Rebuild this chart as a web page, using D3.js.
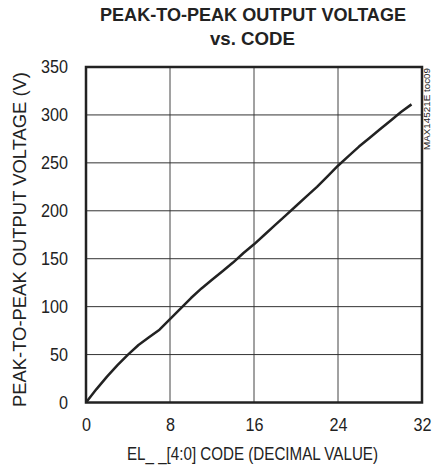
<!DOCTYPE html>
<html>
<head>
<meta charset="utf-8">
<script src="https://cdn.jsdelivr.net/npm/d3@7"></script>
<style>
  body { margin: 0; background: #fff; }
  text { font-family: "Liberation Sans", Arial, sans-serif; fill: #222; }
</style>
</head>
<body>
<svg id="chart" width="444" height="466"></svg>
<script>
// EL[4:0] code vs peak-to-peak output voltage
const codes = [0, 1, 2, 3, 4, 5, 6, 7, 8, 9, 10, 11, 12, 13, 14, 15,
               16, 17, 18, 19, 20, 21, 22, 23, 24, 25, 26, 27, 28, 29, 30, 31];
const vpp = [0, 14, 27, 39, 50, 60, 68, 76, 87, 98, 109, 119, 128, 137, 146, 156,
             165, 175, 185, 195, 205, 215, 225, 236, 247, 257, 267, 276, 285, 294, 303, 311];
const xTicks = [0, 8, 16, 24, 32];
const yTicks = [0, 50, 100, 150, 200, 250, 300, 350];

const margin = {top: 67, right: 22, bottom: 63.5, left: 86};
const width = 444, height = 466;

const svg = d3.select("#chart");

const x = d3.scaleLinear().domain([0, 32]).range([margin.left, width - margin.right]);
const y = d3.scaleLinear().domain([0, 350]).range([height - margin.bottom, margin.top]);

// narrow look: squeeze text to the widths seen in the original
function squeeze(sel, w) {
    sel.attr("textLength", w).attr("lengthAdjust", "spacingAndGlyphs");
}

// title
svg.append("text")
    .attr("x", 253).attr("y", 21)
    .attr("text-anchor", "middle")
    .style("font-size", "19px").style("font-weight", "bold")
    .text("PEAK-TO-PEAK OUTPUT VOLTAGE")
    .call(squeeze, 306);
svg.append("text")
    .attr("x", 252.5).attr("y", 45)
    .attr("text-anchor", "middle")
    .style("font-size", "19px").style("font-weight", "bold")
    .text("vs. CODE")
    .call(squeeze, 85);

// grid
svg.append("g")
    .selectAll("line")
    .data(xTicks.slice(1, -1))
    .join("line")
    .attr("x1", d => x(d)).attr("x2", d => x(d))
    .attr("y1", y(0)).attr("y2", y(350))
    .attr("stroke", "#444").attr("stroke-width", 1);
svg.append("g")
    .selectAll("line")
    .data(yTicks.slice(1, -1))
    .join("line")
    .attr("x1", x(0)).attr("x2", x(32))
    .attr("y1", d => y(d)).attr("y2", d => y(d))
    .attr("stroke", "#333").attr("stroke-width", 1);

// axes labels through d3 axes
const xAxis = svg.append("g")
    .attr("transform", `translate(0, ${y(0)})`)
    .call(d3.axisBottom(x).tickValues(xTicks).tickSize(0).tickPadding(16));
const yAxis = svg.append("g")
    .attr("transform", `translate(${x(0)}, 0)`)
    .call(d3.axisLeft(y).tickValues(yTicks).tickSize(0).tickPadding(18));
[xAxis, yAxis].forEach(a => {
    a.select(".domain").remove();
    a.selectAll("text")
        .style("font-size", "18px")
        .attr("fill", "#222")
        .each(function () {
            const t = d3.select(this);
            squeeze(t, t.text().length * 9);
        });
});

// frame
svg.append("rect")
    .attr("x", x(0)).attr("y", y(350))
    .attr("width", x(32) - x(0)).attr("height", y(0) - y(350))
    .attr("fill", "none")
    .attr("stroke", "#222").attr("stroke-width", 2.5);

// curve
const line = d3.line()
    .x((d, i) => x(codes[i]))
    .y(d => y(d));
svg.append("path")
    .datum(vpp)
    .attr("d", line)
    .attr("fill", "none")
    .attr("stroke", "#222")
    .attr("stroke-width", 2.5)
    .attr("stroke-linejoin", "round");

// axis titles
svg.append("text")
    .attr("x", 252.5).attr("y", 460)
    .attr("text-anchor", "middle")
    .style("font-size", "18px")
    .text("EL_ _[4:0] CODE (DECIMAL VALUE)")
    .call(squeeze, 251);
svg.append("text")
    .attr("transform", "translate(26, 239.5) rotate(-90)")
    .attr("text-anchor", "middle")
    .style("font-size", "18px")
    .text("PEAK-TO-PEAK OUTPUT VOLTAGE (V)")
    .call(squeeze, 335);

// part note
svg.append("text")
    .attr("transform", "translate(430, 109) rotate(-90)")
    .attr("text-anchor", "middle")
    .style("font-size", "9px")
    .text("MAX14521E toc09")
    .call(squeeze, 82);
</script>
</body>
</html>
